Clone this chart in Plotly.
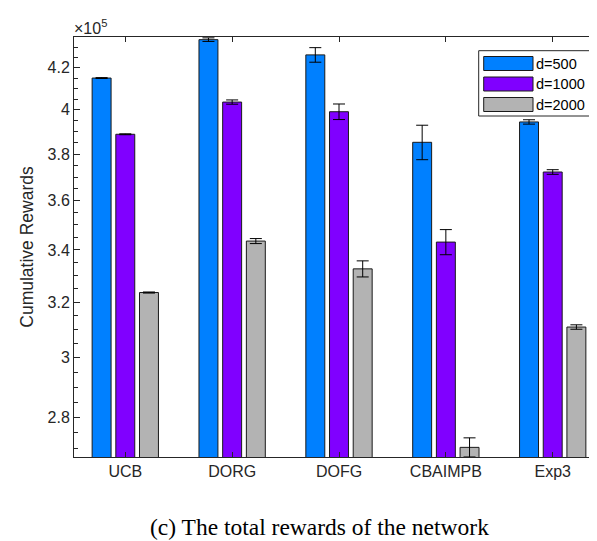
import plotly.graph_objects as go

# data (cumulative rewards)
categories = ["UCB", "DORG", "DOFG", "CBAIMPB", "Exp3"]
series_names = ["d=500", "d=1000", "d=2000"]
rewards_d500 = [415000, 433900, 426300, 385200, 394400]
rewards_d1000 = [388800, 403600, 399100, 343100, 372150]
rewards_d2000 = [323600, 343500, 332600, 270400, 310900]
err_d500 = [200, 900, 3600, 7700, 1000]
err_d1000 = [200, 1000, 3600, 5000, 1000]
err_d2000 = [200, 1000, 3100, 3000, 800]

ytick_vals = [2.8e5, 3.0e5, 3.2e5, 3.4e5, 3.6e5, 3.8e5, 4.0e5, 4.2e5]
ytick_text = ["2.8", "3", "3.2", "3.4", "3.6", "3.8", "4", "4.2"]

colors = ["#0080ff", "#8000ff", "#b3b3b3"]
AX = "#262626"
FONT = "Liberation Sans, Arial, sans-serif"

# minor ticks every 0.05e5
minor_vals = [v * 1e3 for v in range(270, 436, 5) if v * 1e3 not in ytick_vals]

fig = go.Figure()
for name, vals, errs, col in zip(series_names,
                                 [rewards_d500, rewards_d1000, rewards_d2000],
                                 [err_d500, err_d1000, err_d2000], colors):
    fig.add_trace(go.Bar(
        x=categories, y=vals, name=name,
        marker=dict(color=col, line=dict(color="#1a1a1a", width=1)),
        error_y=dict(type="data", array=errs, color="black", thickness=1, width=6),
        showlegend=False,
    ))

fig.update_layout(
    width=597, height=541,
    margin=dict(l=66, r=1, t=29, b=92),
    paper_bgcolor="white", plot_bgcolor="white",
    barmode="group", bargap=0.335, bargroupgap=0.2,
    font=dict(family=FONT, size=16, color=AX),
)

fig.update_xaxes(
    range=[-0.48, 4.48], automargin=False,
    showline=True, linecolor=AX, linewidth=1, mirror="allticks",
    ticks="inside", ticklen=5, tickcolor=AX,
    tickfont=dict(size=16, color=AX),
    showgrid=False,
)
fig.update_yaxes(
    type="log", range=[5.42715, 5.63873], automargin=False,
    tickmode="array", tickvals=ytick_vals, ticktext=ytick_text,
    showline=True, linecolor=AX, linewidth=1, mirror="allticks",
    ticks="inside", ticklen=6, tickcolor=AX,
    tickfont=dict(size=16, color=AX),
    minor=dict(tickmode="array", tickvals=minor_vals, ticks="inside",
               ticklen=4, tickcolor=AX, showgrid=False),
    showgrid=False, zeroline=False,
    title=dict(text="Cumulative Rewards", font=dict(size=17.5, color=AX), standoff=9),
)

# x10^5 exponent label
fig.add_annotation(x=0, y=1, xref="paper", yref="paper", xanchor="left", yanchor="bottom",
                   text="×10<sup>5</sup>", showarrow=False, xshift=-2, yshift=-2,
                   font=dict(size=16, color=AX))

# legend box drawn by hand (wide MATLAB-style patches)
def px(x):
    return (x - 66) / 530.0

def py(y):
    return (449 - y) / 420.0

fig.add_shape(type="rect", xref="paper", yref="paper",
              x0=px(470.7), x1=px(583.3), y0=py(108), y1=py(42.7),
              line=dict(color=AX, width=1), fillcolor="white")
for i, (name, col) in enumerate(zip(series_names, colors)):
    cy = 55.5 + 20.5 * i
    fig.add_shape(type="rect", xref="paper", yref="paper",
                  x0=px(475.7), x1=px(525), y0=py(cy + 7), y1=py(cy - 7),
                  line=dict(color="#1a1a1a", width=1), fillcolor=col)
    fig.add_annotation(x=px(526), y=py(cy), xref="paper", yref="paper",
                       xanchor="left", yanchor="middle", text=name, showarrow=False,
                       font=dict(size=14.5, color="black"))

# caption
fig.add_annotation(x=px(311), y=py(519), xref="paper", yref="paper",
                   xanchor="center", yanchor="middle", showarrow=False,
                   text="(c) The total rewards of the network",
                   font=dict(family="Liberation Serif, Times New Roman, serif", size=23.5, color="black"))

fig.write_html("out.html")
